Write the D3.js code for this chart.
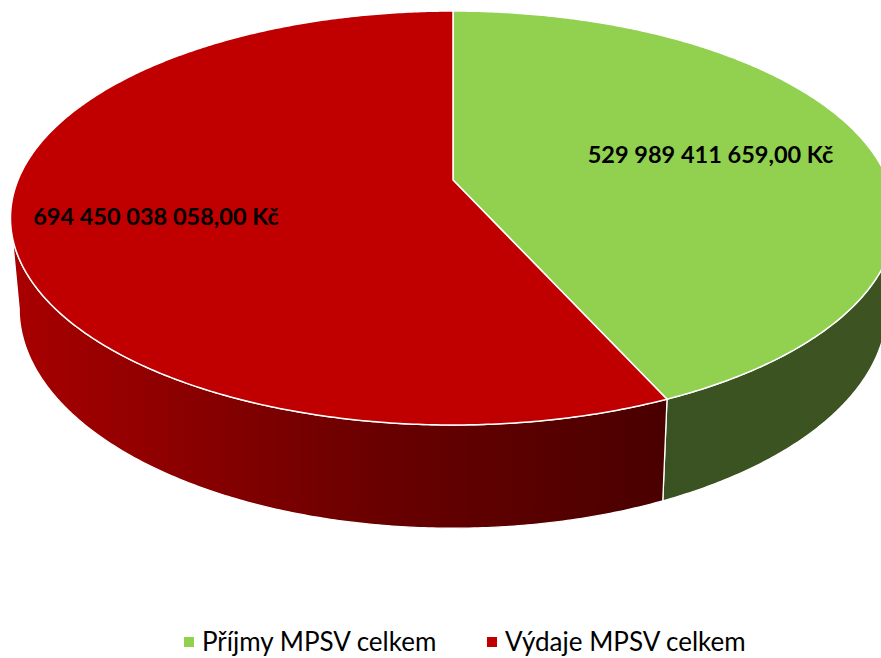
<!DOCTYPE html>
<html lang="cs">
  <head>
    <meta charset="utf-8">
    <title>MPSV příjmy a výdaje</title>
    <script type="text/javascript" src="https://cdn.jsdelivr.net/npm/d3@7"></script>
    <style>
      body { margin: 0; background: #ffffff; }
    </style>
  </head>
  <body>
    <script type="text/javascript">

      var w = 881;
      var h = 658;

      // data
      var categories = ["Příjmy MPSV celkem", "Výdaje MPSV celkem"];
      var values = [529989411659.00, 694450038058.00];
      var labels = ["529 989 411 659,00 Kč", "694 450 038 058,00 Kč"];
      var topColors = ["#92d050", "#c00000"];

      // perspective "3D" pie geometry
      var cx = 453, cy = 180;       // apex of the pie on the top face
      var rx = 435, ry = 200;       // radii of the disk
      var k = 0.1836;               // perspective strength (front is nearer)
      var depth = 90;               // thickness of the disk
      var shrink = 0.02;            // bottom face slightly further away

      // where the data labels sit (fraction of radius, extra y shift)
      var labelRadius = [0.62, 0.68];
      var labelDy = [8, 16];

      function proj(a, r, hgt) {
        var X = r * Math.sin(a);
        var Y = -r * Math.cos(a);
        var ww = (1 - k * Y) * (1 + shrink * hgt);
        return [cx + rx * X / ww, cy + (ry * Y + depth * hgt) / ww];
      }

      function arcPoints(a0, a1, r, hgt) {
        var n = Math.max(2, Math.ceil(Math.abs(a1 - a0) / (Math.PI / 360)));
        var pts = [];
        for (var i = 0; i <= n; i++) {
          pts.push(proj(a0 + (a1 - a0) * i / n, r, hgt));
        }
        return pts;
      }

      var line = d3.line();

      var pie = d3.pie().sort(null).value(function(d) { return d; });
      var arcs = pie(values);

      var svg = d3.select("body")
                  .append("svg")
                  .attr("width", w)
                  .attr("height", h);

      // side wall gradients
      var defs = svg.append("defs");
      var gRed = defs.append("linearGradient")
                     .attr("id", "wall1")
                     .attr("gradientUnits", "userSpaceOnUse")
                     .attr("x1", 15).attr("y1", 0)
                     .attr("x2", 665).attr("y2", 0);
      gRed.append("stop").attr("offset", "0%").attr("stop-color", "#a80000");
      gRed.append("stop").attr("offset", "55%").attr("stop-color", "#6a0000");
      gRed.append("stop").attr("offset", "100%").attr("stop-color", "#4a0000");

      var gGreen = defs.append("linearGradient")
                       .attr("id", "wall0")
                       .attr("gradientUnits", "userSpaceOnUse")
                       .attr("x1", 660).attr("y1", 0)
                       .attr("x2", 881).attr("y2", 0);
      gGreen.append("stop").attr("offset", "0%").attr("stop-color", "#3a5121");
      gGreen.append("stop").attr("offset", "100%").attr("stop-color", "#3d5422");

      // visible part of the outer wall (front facing)
      var frontStart = Math.acos(-k);
      var frontEnd = 2 * Math.PI - frontStart;

      svg.selectAll("path.wall")
         .data(arcs)
         .enter()
         .append("path")
         .attr("class", "wall")
         .attr("d", function(d) {
           var a0 = Math.max(d.startAngle, frontStart);
           var a1 = Math.min(d.endAngle, frontEnd);
           if (a1 <= a0) return null;
           var pts = arcPoints(a0, a1, 1, 0)
                       .concat(arcPoints(a1, a0, 1, 1));
           return line(pts) + "Z";
         })
         .attr("fill", function(d, i) { return "url(#wall" + i + ")"; })
         .attr("stroke", "#ffffff")
         .attr("stroke-width", 1.3)
         .attr("stroke-linejoin", "round");

      // top faces
      svg.selectAll("path.top")
         .data(arcs)
         .enter()
         .append("path")
         .attr("class", "top")
         .attr("d", function(d) {
           var pts = [proj(0, 0, 0)].concat(arcPoints(d.startAngle, d.endAngle, 1, 0));
           return line(pts) + "Z";
         })
         .attr("fill", function(d, i) { return topColors[i]; })
         .attr("stroke", "#ffffff")
         .attr("stroke-width", 1.5)
         .attr("stroke-linejoin", "round");

      // data labels
      svg.selectAll("text.label")
         .data(arcs)
         .enter()
         .append("text")
         .attr("class", "label")
         .text(function(d, i) { return labels[i]; })
         .attr("x", function(d, i) {
           return proj((d.startAngle + d.endAngle) / 2, labelRadius[i], 0)[0];
         })
         .attr("y", function(d, i) {
           return proj((d.startAngle + d.endAngle) / 2, labelRadius[i], 0)[1] + labelDy[i];
         })
         .attr("text-anchor", "middle")
         .attr("font-family", "Lato, 'Open Sans', sans-serif")
         .attr("font-weight", "bold")
         .attr("font-size", "23.5px")
         .attr("fill", "#000000");

      // legend
      var legendX = [184, 487];
      var legend = svg.selectAll("g.legend")
                      .data(categories)
                      .enter()
                      .append("g")
                      .attr("class", "legend")
                      .attr("transform", function(d, i) {
                        return "translate(" + legendX[i] + ",642)";
                      });

      legend.append("rect")
            .attr("x", 0)
            .attr("y", -5)
            .attr("width", 10)
            .attr("height", 10)
            .attr("fill", function(d, i) { return topColors[i]; });

      legend.append("text")
            .text(function(d) { return d; })
            .attr("x", 18)
            .attr("y", 9)
            .attr("font-family", "Lato, 'Open Sans', sans-serif")
            .attr("font-size", "26px")
            .attr("fill", "#000000");

    </script>
  </body>
</html>
